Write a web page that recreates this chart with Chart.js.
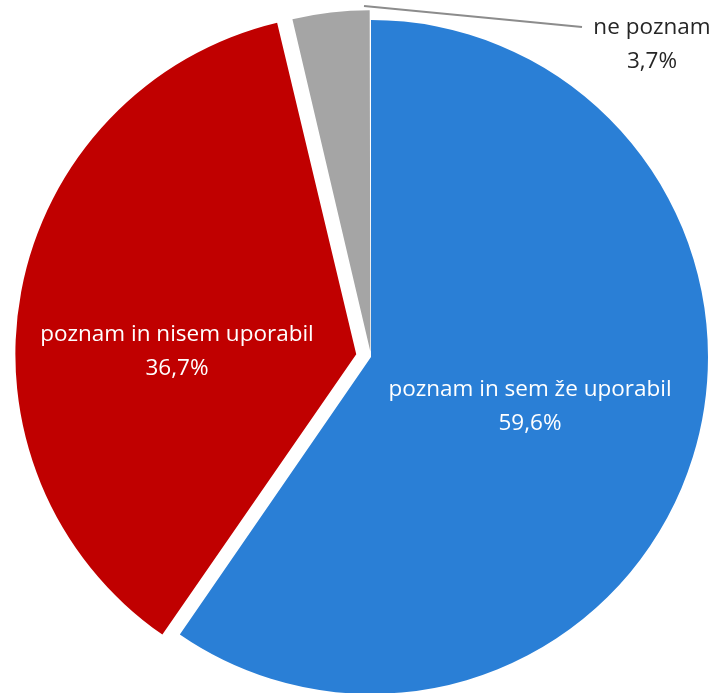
<!DOCTYPE html>
<html>
<head>
<meta charset="utf-8">
<script src="https://cdn.jsdelivr.net/npm/chart.js@4.4.1/dist/chart.umd.min.js"></script>
<style>
  html, body { margin: 0; padding: 0; background: #fff; overflow: hidden; }
  #wrap { position: absolute; left: 0; top: 0; width: 742px; height: 714px; }
</style>
</head>
<body>
<div id="wrap"><canvas id="myChart"></canvas></div>
<script>
// podatki
var categories = ['poznam in sem že uporabil', 'poznam in nisem uporabil', 'ne poznam'];
var values = [59.6, 36.7, 3.7];
var colors = ['#2a7fd6', '#c00000', '#a5a5a5'];
var offsets = [0, 60, 22];

function fmt(v){
    return v.toFixed(1).replace('.', ',') + '%';
}

// napisi na rezinah (in zunaj za "ne poznam")
var sliceLabels = {
    id: 'sliceLabels',
    afterDatasetsDraw: function(chart){
        var ctx = chart.ctx;
        var pos = [
            {x: 530, y: 390, color: '#ffffff'},
            {x: 177, y: 335, color: '#ffffff'},
            {x: 652, y: 28, color: '#262626'}
        ];
        ctx.save();
        // povezovalna crta
        ctx.strokeStyle = '#8c8c8c';
        ctx.lineWidth = 2;
        ctx.beginPath();
        ctx.moveTo(364, 6);
        ctx.lineTo(582, 27);
        ctx.stroke();

        ctx.font = '22.5px "Open Sans", sans-serif';
        ctx.textAlign = 'center';
        ctx.textBaseline = 'middle';
        for (var i = 0; i < categories.length; i++){
            ctx.fillStyle = pos[i].color;
            ctx.fillText(categories[i], pos[i].x, pos[i].y);
            ctx.fillText(fmt(values[i]), pos[i].x, pos[i].y + 34);
        }
        ctx.restore();
    }
};

var ctx = document.getElementById('myChart').getContext('2d');
var chart = new Chart(ctx, {
    type: 'pie',
    data: {
        labels: categories,
        datasets: [{
            data: values,
            backgroundColor: colors,
            borderWidth: 0,
            offset: offsets
        }]
    },
    options: {
        responsive: true,
        maintainAspectRatio: false,
        animation: false,
        radius: 337,
        layout: { padding: 0 },
        plugins: {
            legend: { display: false },
            tooltip: { enabled: false }
        }
    },
    plugins: [sliceLabels]
});
</script>
</body>
</html>
